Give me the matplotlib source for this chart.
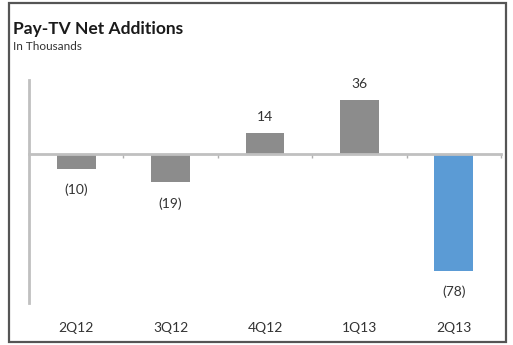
import numpy as np
import matplotlib.pyplot as plt
from matplotlib.patches import Rectangle

plt.rcParams['font.family'] = ['Lato', 'DejaVu Sans']

quarters = ['2Q12', '3Q12', '4Q12', '1Q13', '2Q13']
net_adds = [-10, -19, 14, 36, -78]
bar_colors = ['#8c8c8c', '#8c8c8c', '#8c8c8c', '#8c8c8c', '#5b9bd5']

W, H = 513, 345
fig = plt.figure(figsize=(W / 100, H / 100), dpi=100)

# outer frame
fig.patches.append(Rectangle((9 / W, 3 / H), 497 / W, 339 / H, transform=fig.transFigure,
                             fill=False, edgecolor='#555555', linewidth=1.6))

fig.text(13 / W, 1 - 29 / H, 'Pay-TV Net Additions', fontsize=12.5, fontweight='bold',
         va='center', ha='left', color='#1a1a1a')
fig.text(13 / W, 1 - 46 / H, 'In Thousands', fontsize=8.5, va='center', ha='left', color='#333333')

ax = fig.add_axes([29 / W, 42 / H, 472 / W, 223 / H])
x = np.arange(len(quarters))
ax.bar(x, net_adds, width=0.41, color=bar_colors)

ax.set_xlim(-0.5, 4.5)
ax.set_ylim(-99, 49)

for s in ['top', 'right']:
    ax.spines[s].set_visible(False)
ax.spines['bottom'].set_position(('data', 0))
for s in ['left', 'bottom']:
    ax.spines[s].set_color('#c0c0c0')
    ax.spines[s].set_linewidth(2)

ax.set_yticks([])
ax.set_xticks(np.arange(0.5, 5, 1))
ax.set_xticklabels([])
ax.tick_params(axis='x', length=3, width=1, color='#b0b0b0', direction='out')

for xi, v in zip(x, net_adds):
    label = str(v) if v >= 0 else '(%d)' % -v
    if v >= 0:
        ax.annotate(label, (xi, v), xytext=(0, 11), textcoords='offset points',
                    ha='center', va='center', fontsize=10, color='#333333')
    else:
        ax.annotate(label, (xi, v), xytext=(0, -15), textcoords='offset points',
                    ha='center', va='center', fontsize=10, color='#333333')
    ax.text(xi, -0.112, quarters[xi], transform=ax.get_xaxis_transform(),
            ha='center', va='center', fontsize=10, color='#333333')

fig.savefig('out.png', dpi=100)
